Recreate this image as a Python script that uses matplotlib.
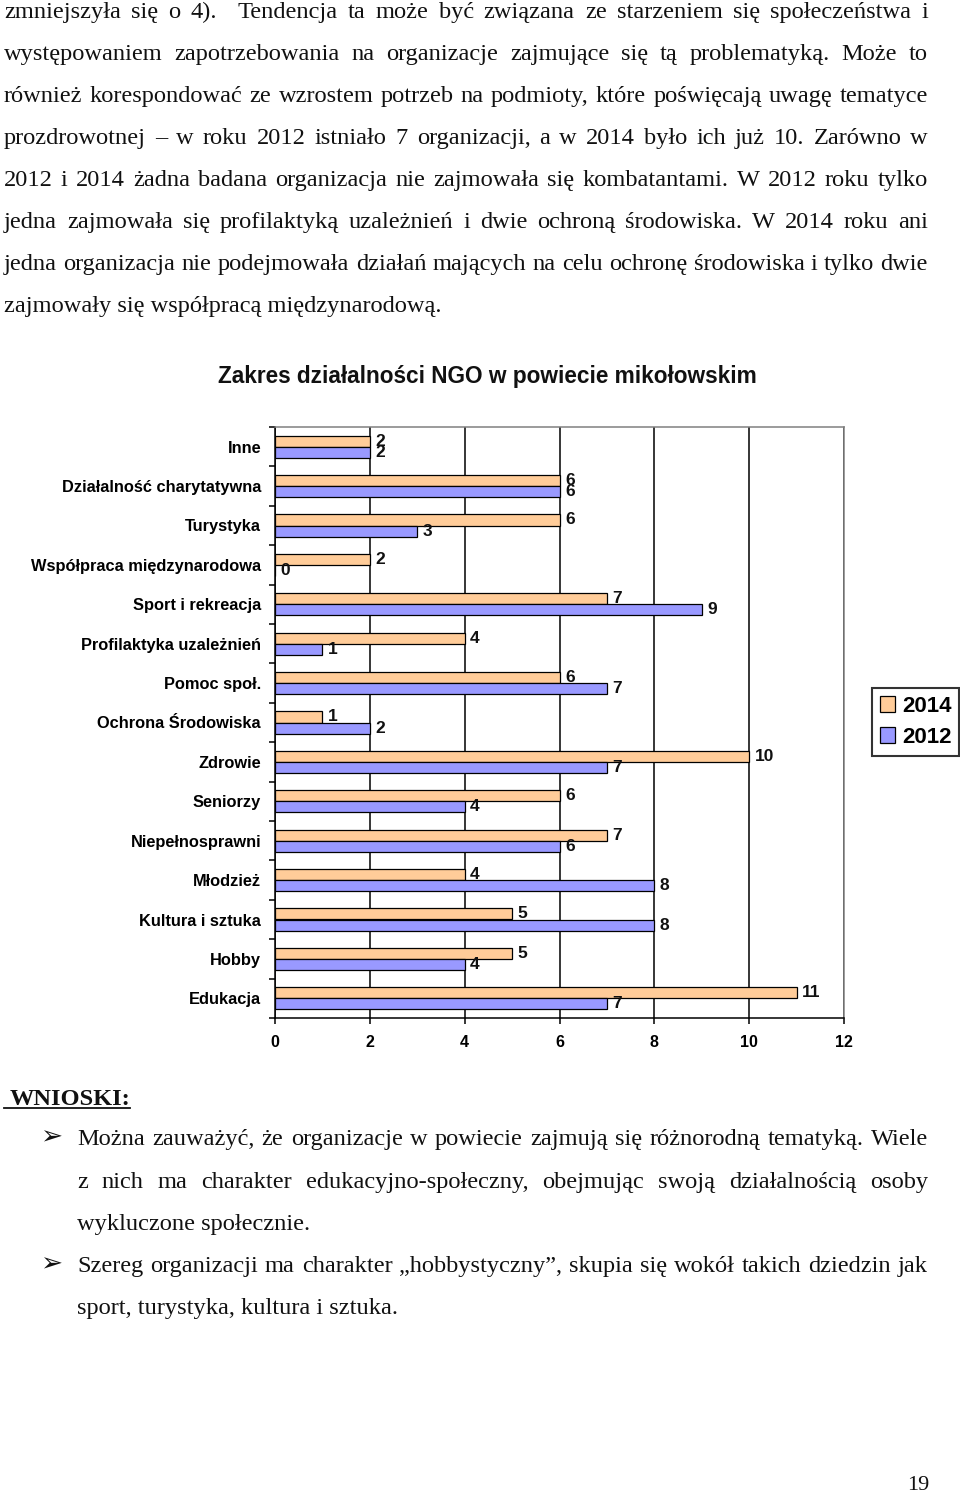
import matplotlib
matplotlib.use("Agg")
import matplotlib.pyplot as plt
from matplotlib.lines import Line2D
from matplotlib.patches import Patch
import numpy as np

W, H = 960, 1493

# chart data (top to bottom)
categories = ["Inne", "Działalność charytatywna", "Turystyka", "Współpraca międzynarodowa",
              "Sport i rekreacja", "Profilaktyka uzależnień", "Pomoc społ.", "Ochrona Środowiska",
              "Zdrowie", "Seniorzy", "Niepełnosprawni", "Młodzież", "Kultura i sztuka",
              "Hobby", "Edukacja"]
v2014 = [2, 6, 6, 2, 7, 4, 6, 1, 10, 6, 7, 4, 5, 5, 11]
v2012 = [2, 6, 3, 0, 9, 1, 7, 2, 7, 4, 6, 8, 8, 4, 7]
xticks = [0, 2, 4, 6, 8, 10, 12]
series_names = ["2014", "2012"]
title = "Zakres działalności NGO w powiecie mikołowskim"

# page text: (text, justified?)
para_lines = [
    ("zmniejszyła się o 4).  Tendencja ta może być związana ze starzeniem się społeczeństwa i", True),
    ("występowaniem zapotrzebowania na organizacje zajmujące się tą problematyką. Może to", True),
    ("również korespondować ze wzrostem potrzeb na podmioty, które poświęcają uwagę tematyce", True),
    ("prozdrowotnej – w roku 2012 istniało 7 organizacji, a w 2014 było ich już 10. Zarówno w", True),
    ("2012 i 2014 żadna badana organizacja nie zajmowała się kombatantami. W 2012 roku tylko", True),
    ("jedna zajmowała się profilaktyką uzależnień i dwie ochroną środowiska. W 2014 roku ani", True),
    ("jedna organizacja nie podejmowała działań mających na celu ochronę środowiska i tylko dwie", True),
    ("zajmowały się współpracą międzynarodową.", False),
]
bullet_lines = [
    ("Można zauważyć, że organizacje w powiecie zajmują się różnorodną tematyką. Wiele", True, True),
    ("z nich ma charakter edukacyjno-społeczny, obejmując swoją działalnością osoby", True, False),
    ("wykluczone społecznie.", False, False),
    ("Szereg organizacji ma charakter „hobbystyczny”, skupia się wokół takich dziedzin jak", True, True),
    ("sport, turystyka, kultura i sztuka.", False, False),
]

plt.rcParams["font.family"] = ["Liberation Sans", "DejaVu Sans"]


def fx(x):
    return x / W


def fy(y):
    return 1 - y / H


def put_line(fig, text, x0, x1, y, justify=True, **kw):
    """Draw one line of text at baseline y (pixels), justified between x0 and x1."""
    if not justify:
        fig.text(fx(x0), fy(y), text, va="baseline", **kw)
        return
    tokens = text.split(" ")
    arts = [fig.text(0, 0, t, va="baseline", **kw) for t in tokens]
    r = fig.canvas.get_renderer()
    widths = [a.get_window_extent(r).width if t else 0 for a, t in zip(arts, tokens)]
    gap = (x1 - x0 - sum(widths)) / (len(tokens) - 1)
    x = x0
    for a, w in zip(arts, widths):
        a.set_position((fx(x), fy(y)))
        x += w + gap


fig = plt.figure(figsize=(W / 100, H / 100), dpi=100)
body = dict(family="Liberation Serif", size=17.6, color="#111111")

# paragraph above chart
for i, (line, just) in enumerate(para_lines):
    put_line(fig, line, 4, 928, 18 + 42 * i, justify=just, **body)

# chart title
fig.text(fx(487), fy(383), title, ha="center", va="baseline", size=16.3,
         weight="bold", color="#111111")

# the chart
ax = fig.add_axes([fx(275), fy(1018), (844 - 275) / W, (1018 - 427) / H])
y = np.arange(len(categories))
b14 = ax.barh(y - 0.14, v2014, height=0.28, color="#FFCC99", edgecolor="black",
              linewidth=0.9, zorder=3)
b12 = ax.barh(y + 0.14, v2012, height=0.28, color="#9999FF", edgecolor="black",
              linewidth=0.9, zorder=3)
for bars in (b14, b12):
    ax.bar_label(bars, padding=4, fontsize=12.5, fontweight="bold", color="#111111")

ax.set_xlim(0, 12)
ax.set_ylim(len(categories) - 0.5, -0.5)
ax.set_xticks(xticks)
ax.set_xticklabels([str(t) for t in xticks], fontsize=11.5, fontweight="bold")
ax.set_yticks(y)
ax.set_yticklabels(categories, fontsize=11.8, fontweight="bold")
ax.set_yticks(np.arange(-0.5, len(categories), 1), minor=True)
ax.tick_params(axis="y", which="major", length=0, pad=10)
ax.tick_params(axis="y", which="minor", length=4, width=1.1, direction="out")
ax.tick_params(axis="x", length=4, width=1.1, direction="out", pad=8)
ax.xaxis.grid(True, color="black", linewidth=1.1, zorder=0)
ax.set_axisbelow(True)
for side in ("left", "bottom"):
    ax.spines[side].set_color("black")
    ax.spines[side].set_linewidth(1.1)
for side in ("top", "right"):
    ax.spines[side].set_color("#808080")
    ax.spines[side].set_linewidth(1.1)

handles = [Patch(facecolor="#FFCC99", edgecolor="black", linewidth=0.9),
           Patch(facecolor="#9999FF", edgecolor="black", linewidth=0.9)]
leg = fig.legend(handles, series_names, loc="upper left", bbox_to_anchor=(fx(872), fy(688)),
                 frameon=True, fancybox=False, edgecolor="black", borderaxespad=0,
                 handlelength=0.7, handleheight=0.7, handletextpad=0.3, borderpad=0.35,
                 labelspacing=0.45, prop=dict(size=16, weight="bold"))
leg.get_frame().set_linewidth(1.5)

# conclusions
fig.text(fx(10), fy(1105), "WNIOSKI:", va="baseline", family="Liberation Serif",
         size=17.6, weight="bold", color="#111111")
fig.add_artist(Line2D([fx(4), fx(130)], [fy(1108), fy(1108)], color="#111111", linewidth=1.3))

bl_y = [1145, 1188, 1230, 1272, 1314]
for (line, just, bullet), by in zip(bullet_lines, bl_y):
    if bullet:
        fig.text(fx(40), fy(by - 1), "➢", va="baseline", family="DejaVu Sans", size=19,
                 color="#111111")
    put_line(fig, line, 77, 928, by, justify=just, **body)

# page number
fig.text(fx(918), fy(1490), "19", ha="center", va="baseline", family="Liberation Serif",
         size=16, color="#111111")

fig.savefig("out.png", dpi=100)
